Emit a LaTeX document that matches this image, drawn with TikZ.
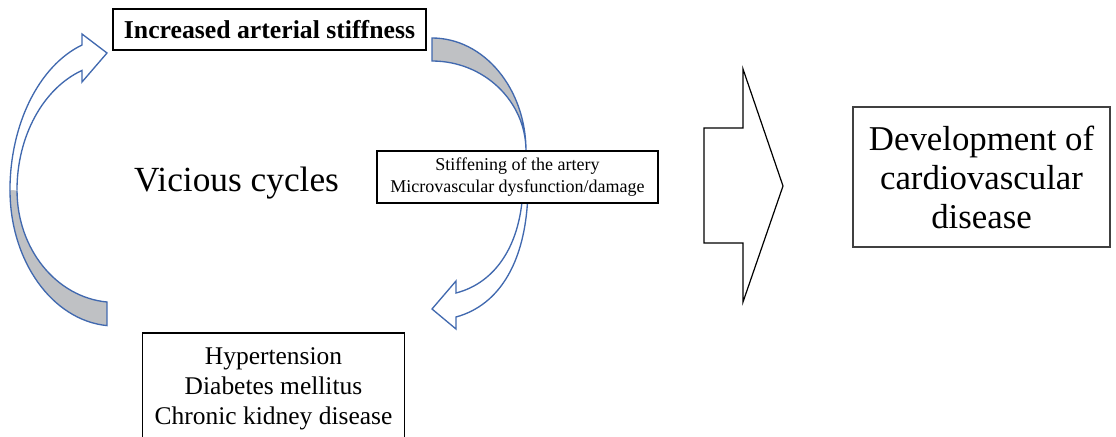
\documentclass[tikz,border=0pt]{standalone}
\usepackage{fontspec}
\setmainfont{Liberation Serif}
\definecolor{arrowblue}{RGB}{65,105,175}
\definecolor{backgray}{RGB}{191,193,196}
\newcommand{\pxu}{0.75pt}
\tikzset{
  box/.style={draw=black, line width=0.9pt, fill=white, inner sep=0pt, align=center},
  curvearrow/.style={draw=arrowblue, line width=1pt, line join=miter},
}

\begin{document}
\begin{tikzpicture}[x=0.75pt, y=-0.75pt]
\useasboundingbox (0,0) rectangle (1116,436);
\clip (0,0) rectangle (1116,436);
% left loop arrow (back part, then front part; open paths so no seam)
\filldraw[curvearrow, fill=backgray] (10,190) arc[start angle=180, end angle=94.4, x radius=105, y radius=136]
    -- (107,302) arc[start angle=94.7, end angle=180, x radius=98, y radius=112];
\filldraw[curvearrow, fill=white] (17,190) arc[start angle=180, end angle=250.3, x radius=98, y radius=127]
    -- (82,82) -- (107,53) -- (82,34) -- (82,45)
    arc[start angle=251.7, end angle=180, x radius=105, y radius=153];
% right loop arrow
\filldraw[curvearrow, fill=backgray] (432,38) arc[start angle=270, end angle=360, x radius=94, y radius=113]
    arc[start angle=0, end angle=-90, x radius=94, y radius=90] -- cycle;
\filldraw[curvearrow, fill=white] (528,185) .. controls (528,260) and (500,305) .. (456,317)
    -- (456,329) -- (432,309) -- (456,281) -- (456,293)
    .. controls (495,283) and (522,245) .. (523,185) -- cycle;
% boxes
\node[box, minimum width=313*\pxu, minimum height=41*\pxu, font=\bfseries\fontsize{19.3}{23}\selectfont] (stiff) at (269.5,29.5) {Increased arterial stiffness};
\node[box, minimum width=281*\pxu, minimum height=52*\pxu, font=\fontsize{13.5}{17}\selectfont] (mech) at (517.5,177) {Stiffening of the artery\\Microvascular dysfunction/damage};
\node[font=\fontsize{26.5}{30}\selectfont, anchor=base] (cycles) at (236.5,191) {Vicious cycles};
\node[align=center, anchor=north, inner xsep=0pt, inner ysep=14*\pxu, minimum width=261*\pxu, font=\fontsize{19.1}{22.5}\selectfont] (risk) at (273.5,333) {Hypertension\\Diabetes mellitus\\Chronic kidney disease};
\draw[line width=0.9pt] (risk.north west) rectangle ([yshift=-20pt]risk.south east);
% big arrow
\draw[line width=0.9pt, fill=white] (704,128) -- (743,128) -- (743,69) -- (783,186) -- (743,302) -- (743,243) -- (704,243) -- cycle;
\node[box, draw=black!75, minimum width=257*\pxu, minimum height=140*\pxu, font=\fontsize{26.1}{29.3}\selectfont] (cvd) at (981.5,177) {Development of\\cardiovascular\\disease};
\end{tikzpicture}
\end{document}
